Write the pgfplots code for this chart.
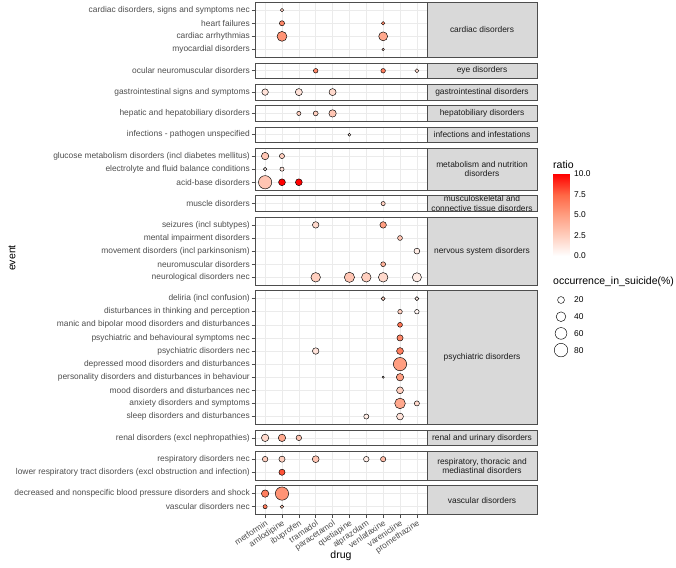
\documentclass[border=0pt]{standalone}
\usepackage{pgfplots}
\pgfplotsset{compat=1.18}
\usepackage{fontspec}
\setmainfont{Liberation Sans}
\definecolor{grid92}{HTML}{EBEBEB}
\definecolor{bordercol}{HTML}{4D4D4D}
\definecolor{stripfill}{HTML}{D9D9D9}
\definecolor{axtext}{HTML}{4D4D4D}
\definecolor{striptext}{HTML}{1A1A1A}
\newcommand\axfont{\fontsize{8.4}{10}\selectfont}
\newcommand\stripfont{\fontsize{8.4}{9.3}\selectfont}
\newcommand\titlefont{\fontsize{10.5}{12}\selectfont}
\tikzset{strip/.style={fill=stripfill, draw=bordercol, line width=0.6pt}}
\pgfplotsset{
  colormap={ratiomap}{rgb255(0)=(255,255,255) rgb255(1)=(255,207,191) rgb255(2)=(255,158,129) rgb255(3)=(255,104,70) rgb255(4)=(255,0,0)},
  panel/.style={
    scale only axis, width=172pt,
    xmin=0.4, xmax=10.6, y dir=reverse,
    xtick={1,...,10}, xticklabels={},
    grid=major, major grid style={draw=grid92, line width=0.6pt},
    axis line style={draw=bordercol, line width=0.6pt},
    tick align=outside, major tick length=3.5pt,
    xtick pos=bottom, ytick pos=left,
    xtick style={draw=none},
    ytick style={draw=bordercol, line width=0.6pt},
    yticklabel style={font=\axfont, text=axtext, inner sep=1.5pt},
    colormap name=ratiomap, point meta min=0, point meta max=10,
  },
  bubble/.style={scatter, only marks, mark=*,
    point meta=\thisrow{ratio},
    scatter/use mapped color={draw=black, fill=mapped color},
    visualization depends on={\thisrow{occ} \as \occ},
    scatter/@pre marker code/.append style={/tikz/mark size={0.15+0.738*sqrt(\occ)}},
    mark options={line width=0.45pt}},
}
\begin{document}
\begin{tikzpicture}
\useasboundingbox (0,0) rectangle (676pt,-567pt);

% 1 cardiac
\begin{axis}[panel, name=p1, at={(255pt,-2.3pt)}, anchor=north west, height=55.02pt,
  ymin=0.4, ymax=4.6, ytick={1,2,3,4},
  yticklabels={{cardiac disorders, signs and symptoms nec},heart failures,cardiac arrhythmias,myocardial disorders}]
\addplot[bubble] table {
x y occ ratio
2 1 4.7 2.5
2 2 10.6 6
8 2 4.7 6
2 3 42 5.5
8 3 34 4.5
8 4 2.3 3
};
\end{axis}
\draw[strip] (p1.north east) rectangle ([xshift=110pt]p1.south east);
\node[font=\stripfont, text=striptext, align=center] at ([xshift=55pt]p1.east) {cardiac disorders};

% 2 eye
\begin{axis}[panel, name=p2, at={(255pt,-62.92pt)}, anchor=north west, height=15.72pt,
  ymin=0.4, ymax=1.6, ytick={1}, yticklabels={ocular neuromuscular disorders}]
\addplot[bubble] table {
x y occ ratio
4 1 8.3 6
8 1 8.3 6.5
10 1 6.2 2
};
\end{axis}
\draw[strip] (p2.north east) rectangle ([xshift=110pt]p2.south east);
\node[font=\stripfont, text=striptext, align=center] at ([xshift=55pt]p2.east) {eye disorders};

% 3 gastro
\begin{axis}[panel, name=p3, at={(255pt,-84.24pt)}, anchor=north west, height=15.72pt,
  ymin=0.4, ymax=1.6, ytick={1}, yticklabels={gastrointestinal signs and symptoms}]
\addplot[bubble] table {
x y occ ratio
1 1 17.6 1.5
3 1 21 1.5
5 1 21 2
};
\end{axis}
\draw[strip] (p3.north east) rectangle ([xshift=110pt]p3.south east);
\node[font=\stripfont, text=striptext, align=center] at ([xshift=55pt]p3.east) {gastrointestinal disorders};

% 4 hepato
\begin{axis}[panel, name=p4, at={(255pt,-105.56pt)}, anchor=north west, height=15.72pt,
  ymin=0.4, ymax=1.6, ytick={1}, yticklabels={hepatic and hepatobiliary disorders}]
\addplot[bubble] table {
x y occ ratio
3 1 6.9 2.5
4 1 9.6 2.5
5 1 23 3
};
\end{axis}
\draw[strip] (p4.north east) rectangle ([xshift=110pt]p4.south east);
\node[font=\stripfont, text=striptext, align=center] at ([xshift=55pt]p4.east) {hepatobiliary disorders};

% 5 infections
\begin{axis}[panel, name=p5, at={(255pt,-126.88pt)}, anchor=north west, height=15.72pt,
  ymin=0.4, ymax=1.6, ytick={1}, yticklabels={infections - pathogen unspecified}]
\addplot[bubble] table {
x y occ ratio
6 1 3.1 1
};
\end{axis}
\draw[strip] (p5.north east) rectangle ([xshift=110pt]p5.south east);
\node[font=\stripfont, text=striptext, align=center] at ([xshift=55pt]p5.east) {infections and infestations};

% 6 metabolism
\begin{axis}[panel, name=p6, at={(255pt,-148.2pt)}, anchor=north west, height=41.92pt,
  ymin=0.4, ymax=3.6, ytick={1,2,3},
  yticklabels={glucose metabolism disorders (incl diabetes mellitus),electrolyte and fluid balance conditions,acid-base disorders}]
\addplot[bubble] table {
x y occ ratio
1 1 23 3
2 1 10.6 2.5
1 2 4.7 0.8
2 2 6.9 1.5
1 3 77 3
2 3 19.5 10
3 3 19.5 10
};
\end{axis}
\draw[strip] (p6.north east) rectangle ([xshift=110pt]p6.south east);
\node[font=\stripfont, text=striptext, align=center] at ([xshift=55pt]p6.east) {metabolism and nutrition\\disorders};

% 7 musculoskeletal
\begin{axis}[panel, name=p7, at={(255pt,-195.72pt)}, anchor=north west, height=15.72pt,
  ymin=0.4, ymax=1.6, ytick={1}, yticklabels={muscle disorders}]
\addplot[bubble] table {
x y occ ratio
8 1 6.9 2.5
};
\end{axis}
\draw[strip] (p7.north east) rectangle ([xshift=110pt]p7.south east);
\begin{scope}
\clip (p7.north east) rectangle ([xshift=110pt]p7.south east);
\node[font=\stripfont, text=striptext, align=center] at ([xshift=55pt]p7.east) {musculoskeletal and\\connective tissue disorders};
\end{scope}

% 8 nervous
\begin{axis}[panel, name=p8, at={(255pt,-217.04pt)}, anchor=north west, height=68.12pt,
  ymin=0.4, ymax=5.6, ytick={1,2,3,4,5},
  yticklabels={seizures (incl subtypes),mental impairment disorders,movement disorders (incl parkinsonism),neuromuscular disorders,neurological disorders nec}]
\addplot[bubble] table {
x y occ ratio
4 1 17.6 2
8 1 17.6 5
9 2 9.6 3
10 3 14 1
8 4 9.6 4
4 5 39 2.5
6 5 45 3
7 5 39 2.5
8 5 39 2
10 5 36 1
};
\end{axis}
\draw[strip] (p8.north east) rectangle ([xshift=110pt]p8.south east);
\node[font=\stripfont, text=striptext, align=center] at ([xshift=55pt]p8.east) {nervous system disorders};

% 9 psychiatric
\begin{axis}[panel, name=p9, at={(255pt,-290.76pt)}, anchor=north west, height=133.62pt,
  ymin=0.4, ymax=10.6, ytick={1,...,10},
  yticklabels={deliria (incl confusion),disturbances in thinking and perception,manic and bipolar mood disorders and disturbances,psychiatric and behavioural symptoms nec,psychiatric disorders nec,depressed mood disorders and disturbances,personality disorders and disturbances in behaviour,mood disorders and disturbances nec,anxiety disorders and symptoms,sleep disorders and disturbances}]
\addplot[bubble] table {
x y occ ratio
8 1 6.2 2.5
10 1 6.2 1
9 2 8.3 2.5
10 2 8.3 0.5
9 3 9.6 7
9 4 15.6 6
4 5 17.6 1.5
9 5 19.6 6.5
9 6 77 5
8 7 1.6 1
9 7 23 5
9 8 19.6 2.5
9 9 49 4.5
10 9 10.6 2
7 10 10.6 1
9 10 19.6 1.5
};
\end{axis}
\draw[strip] (p9.north east) rectangle ([xshift=110pt]p9.south east);
\node[font=\stripfont, text=striptext, align=center] at ([xshift=55pt]p9.east) {psychiatric disorders};

% 10 renal
\begin{axis}[panel, name=p10, at={(255pt,-429.98pt)}, anchor=north west, height=15.72pt,
  ymin=0.4, ymax=1.6, ytick={1}, yticklabels={renal disorders (excl nephropathies)}]
\addplot[bubble] table {
x y occ ratio
1 1 23 2
2 1 23 4.5
3 1 12.4 3
};
\end{axis}
\draw[strip] (p10.north east) rectangle ([xshift=110pt]p10.south east);
\node[font=\stripfont, text=striptext, align=center] at ([xshift=55pt]p10.east) {renal and urinary disorders};

% 11 respiratory
\begin{axis}[panel, name=p11, at={(255pt,-451.3pt)}, anchor=north west, height=28.82pt,
  ymin=0.4, ymax=2.6, ytick={1,2},
  yticklabels={respiratory disorders nec,lower respiratory tract disorders (excl obstruction and infection)}]
\addplot[bubble] table {
x y occ ratio
1 1 12.4 2.5
2 1 15.6 2.5
4 1 19.5 3
7 1 12.4 1
8 1 11.5 3.5
2 2 15.6 8
};
\end{axis}
\draw[strip] (p11.north east) rectangle ([xshift=110pt]p11.south east);
\node[font=\stripfont, text=striptext, align=center] at ([xshift=55pt]p11.east) {respiratory, thoracic and\\mediastinal disorders};

% 12 vascular
\begin{axis}[panel, name=p12, at={(255pt,-485.72pt)}, anchor=north west, height=28.82pt,
  ymin=0.4, ymax=2.6, ytick={1,2},
  yticklabels={decreased and nonspecific blood pressure disorders and shock,vascular disorders nec},
  xticklabels={metformin,amlodipine,ibuprofen,tramadol,paracetamol,quetiapine,alprazolam,venlafaxine,varenicline,promethazine},
  xtick style={draw=bordercol, line width=0.6pt},
  xticklabel style={font=\axfont, text=axtext, rotate=34, anchor=north east, inner sep=1pt}]
\addplot[bubble] table {
x y occ ratio
1 1 23 6.5
2 1 77 5.5
1 2 6.9 6.5
2 2 4.7 3
};
\end{axis}
\draw[strip] (p12.north east) rectangle ([xshift=110pt]p12.south east);
\node[font=\stripfont, text=striptext, align=center] at ([xshift=55pt]p12.east) {vascular disorders};

% axis titles
\node[font=\titlefont, rotate=90] at (12pt,-258pt) {event};
\node[font=\titlefont] at (341pt,-556pt) {drug};

% colour bar
\node[font=\titlefont, anchor=west, inner sep=0pt] at (553pt,-164.5pt) {ratio};
\begin{axis}[at={(553pt,-256pt)}, anchor=south west, scale only axis, width=16pt, height=82pt,
  xmin=0, xmax=1, ymin=0, ymax=10, axis line style={draw=none},
  xtick=\empty, ytick={0,2.5,5,7.5,10}, yticklabels={0.0,2.5,5.0,7.5,10.0},
  ytick pos=both, yticklabel pos=right, tick align=inside, major tick length=3pt,
  ytick style={draw=white, line width=0.6pt},
  yticklabel style={font=\axfont, text=black, anchor=west, inner sep=0pt, xshift=5pt},
  colormap name=ratiomap, point meta min=0, point meta max=10]
\addplot[surf, shader=interp, point meta=y, mesh/cols=2] table {
x y
0 0
1 0
0 2.5
1 2.5
0 5
1 5
0 7.5
1 7.5
0 10
1 10
};
\end{axis}

% size legend
\node[font=\titlefont, anchor=west, inner sep=0pt] at (553pt,-282pt) {occurrence\_in\_suicide(\%)};
\begin{axis}[at={(553pt,-291.65pt)}, anchor=north west, scale only axis, width=16pt, height=66.8pt,
  hide axis, clip=false, xmin=0, xmax=1, ymin=0.5, ymax=4.5, y dir=reverse,
  colormap name=ratiomap, point meta min=0, point meta max=10]
\addplot[bubble] table {
x y occ ratio
0.5 1 20 0
0.5 2 40 0
0.5 3 60 0
0.5 4 80 0
};
\node[font=\axfont, anchor=west, inner sep=0pt] at (axis cs:0.5,1) [xshift=13pt] {20};
\node[font=\axfont, anchor=west, inner sep=0pt] at (axis cs:0.5,2) [xshift=13pt] {40};
\node[font=\axfont, anchor=west, inner sep=0pt] at (axis cs:0.5,3) [xshift=13pt] {60};
\node[font=\axfont, anchor=west, inner sep=0pt] at (axis cs:0.5,4) [xshift=13pt] {80};
\end{axis}
\end{tikzpicture}
\end{document}
